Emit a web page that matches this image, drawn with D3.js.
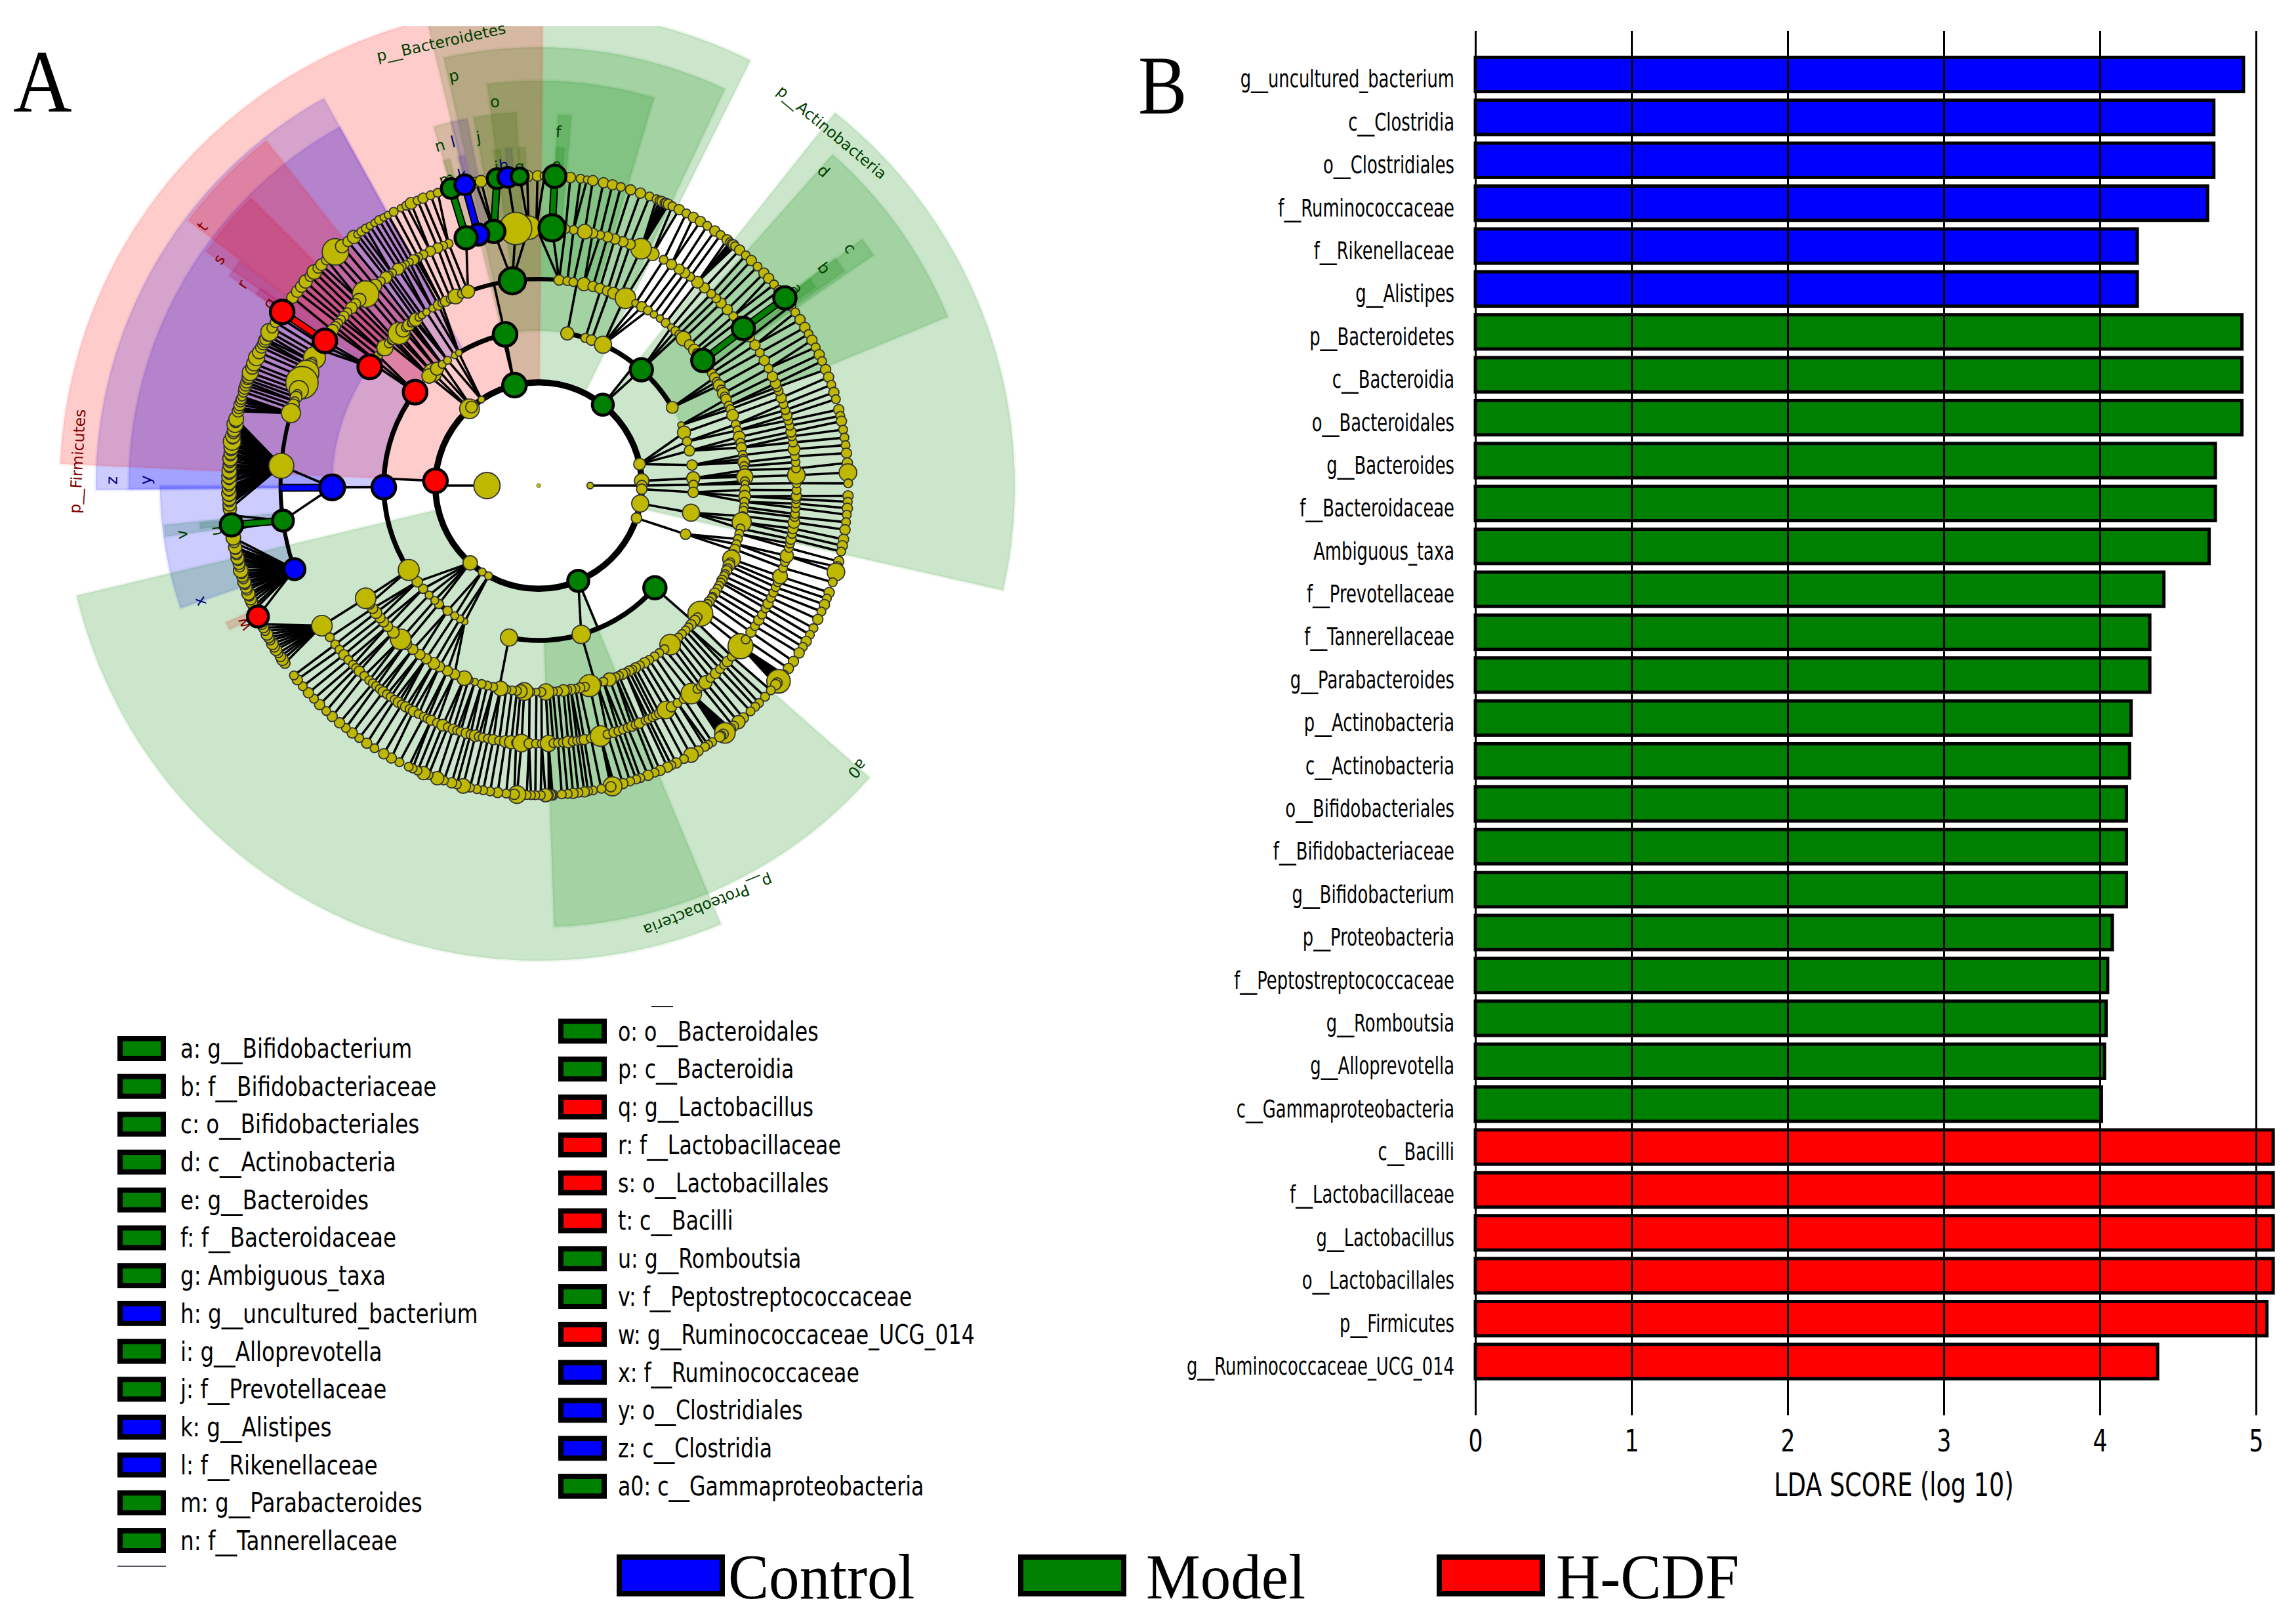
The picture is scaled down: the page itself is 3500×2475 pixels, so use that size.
<!DOCTYPE html>
<html><head><meta charset="utf-8">
<script src="https://cdn.jsdelivr.net/npm/d3@7/dist/d3.min.js"></script>
<style>html,body{margin:0;padding:0;background:#fff}svg{display:block}</style>
</head><body><svg id="chart" width="3500" height="2475"></svg>
<script>
// ---------- Panel B data ----------
const barNames = ["g__uncultured_bacterium","c__Clostridia","o__Clostridiales","f__Ruminococcaceae","f__Rikenellaceae","g__Alistipes","p__Bacteroidetes","c__Bacteroidia","o__Bacteroidales","g__Bacteroides","f__Bacteroidaceae","Ambiguous_taxa","f__Prevotellaceae","f__Tannerellaceae","g__Parabacteroides","p__Actinobacteria","c__Actinobacteria","o__Bifidobacteriales","f__Bifidobacteriaceae","g__Bifidobacterium","p__Proteobacteria","f__Peptostreptococcaceae","g__Romboutsia","g__Alloprevotella","c__Gammaproteobacteria","c__Bacilli","f__Lactobacillaceae","g__Lactobacillus","o__Lactobacillales","p__Firmicutes","g__Ruminococcaceae_UCG_014"];
const barScores = [4.92,4.73,4.73,4.69,4.24,4.24,4.91,4.91,4.91,4.74,4.74,4.70,4.41,4.32,4.32,4.20,4.19,4.17,4.17,4.17,4.08,4.05,4.04,4.03,4.01,5.11,5.11,5.11,5.11,5.07,4.37];
const barGroups = ["b","b","b","b","b","b","g","g","g","g","g","g","g","g","g","g","g","g","g","g","g","g","g","g","g","r","r","r","r","r","r"];
const xTicks = [0,1,2,3,4,5];
const groupNames = [["b","Control"],["g","Model"],["r","H-CDF"]];
// ---------- Panel A legend ----------
const legendLeft = [["g","a: g__Bifidobacterium"],["g","b: f__Bifidobacteriaceae"],["g","c: o__Bifidobacteriales"],["g","d: c__Actinobacteria"],["g","e: g__Bacteroides"],["g","f: f__Bacteroidaceae"],["g","g: Ambiguous_taxa"],["b","h: g__uncultured_bacterium"],["g","i: g__Alloprevotella"],["g","j: f__Prevotellaceae"],["b","k: g__Alistipes"],["b","l: f__Rikenellaceae"],["g","m: g__Parabacteroides"],["g","n: f__Tannerellaceae"]];
const legendRight = [["g","o: o__Bacteroidales"],["g","p: c__Bacteroidia"],["r","q: g__Lactobacillus"],["r","r: f__Lactobacillaceae"],["r","s: o__Lactobacillales"],["r","t: c__Bacilli"],["g","u: g__Romboutsia"],["g","v: f__Peptostreptococcaceae"],["r","w: g__Ruminococcaceae_UCG_014"],["b","x: f__Ruminococcaceae"],["b","y: o__Clostridiales"],["b","z: c__Clostridia"],["g","a0: c__Gammaproteobacteria"]];
// ---------- Cladogram: shaded clades [colour, angle from, angle to, level inner, outer radius] ----------
const shades = [
 ["r",89.5,177.4,2,730],["g",63.5,103.5,2,724],["g",-12.7,51.5,2,726],["g",193.4,292.6,2,724],
 ["r",128.3,142.9,3,670],["b",119,180.6,3,675],["g",64.8,102.5,3,668],["g",22.4,48.4,3,675],["g",272,318.6,3,673],
 ["r",135,144.9,4,620],["b",119,180.5,4,625],["g",73.4,97.3,4,617],["g",34.5,37.3,4,620],
 ["r",143,145.9,5,570],["b",180,198.9,5,577],["g",186,187.8,5,574],["g",93.4,100,5,570],["b",101,103.5,5,570],["g",103.5,106.3,5,570],["g",84.9,87,5,566],["g",35,37.5,5,570],
 ["r",144.6,145.9,6,520],["r",203.6,205,6,520],["g",186.3,187.3,6,520],["g",85.6,87,6,516],["g",92.2,93.5,6,516],["b",94.5,95.7,6,516],["g",96.4,97.7,6,516],["b",102.6,103.8,6,516],["g",105.2,106.4,6,516],["g",35.6,37.3,6,520]];
// label, angle, radius, colour
const cladeLabels = [["a",37.3,495,"g"],["b",37.3,547,"g"],["c",37.3,597,"g"],["d",47.8,647,"g"],["e",86.8,490,"g"],["f",86.8,540,"g"],["g",93.4,487,"g"],["h",96.2,491,"b"],["i",97.5,490,"g"],["j",99.8,539,"g"],["k",103.8,488,"b"],["l",104,540,"b"],["m",106.7,488,"g"],["n",106.2,540,"g"],["o",96.5,589,"g"],["p",101.7,638,"g"],["q",145.9,496,"r"],["r",145.8,546,"r"],["s",144.7,597,"r"],["t",142.4,647,"r"],["u",188,497,"g"],["v",187.8,549,"g"],["w",205.2,497,"r"],["x",198.9,546,"b"],["y",179.2,599,"b"],["z",179.3,651,"b"],["a0",-41.6,650,"g"]];
const phylumLabels = [["p__Firmicutes",177,704,"r"],["p__Bacteroidetes",102.4,692,"g"],["p__Actinobacteria",50.3,700,"g"],["p__Proteobacteria",-68,690,"g"]];
// rows are [angle, node radius, colour]; no colour means not significant
const level0 = [[0,3]];
const level1 = [[180,20],[0,5]];
const level2 = [[177.4,18,"r"],[103.5,18,"g"],[51.5,16,"g"],[132,15],[130.5,9],[123.6,5],[12,9],[2.6,11],[0,8],[-2,8],[-10,13],[-18.4,8],[-67.4,16,"g"],[241,6],[236.8,6],[228.5,11]];
const level3 = [[142.9,18,"r"],[133.2,14],[135,11],[131,10],[128.5,6],[126,6],[122.8,5],[121,5],[102.5,18,"g"],[79.3,10],[72.4,7],[70,8],[65.4,13],[48.4,17,"g"],[30.3,9],[23,5],[20,10],[16.5,7],[13,8],[7.6,8],[2.7,10],[0.3,7],[-2.5,8],[-10.1,13],[-18.3,8],[-41.3,17,"g"],[-74,14],[259,13],[241.5,5],[239.5,6],[237.2,6],[234,7],[229.9,7],[227.9,6],[225,6],[221.8,7],[218.4,8],[213,16],[180.6,18,"b"]];
const level4 = [[144.9,18,"r"],[143.7,5],[142.5,6],[141,6],[139.5,6],[138.1,11],[136.5,6],[135.3,6],[134.4,9],[133.5,6],[132.5,15],[131,10],[130,6],[129,8],[128.2,5],[127.8,6],[127,5],[126.5,9],[125.5,5],[124.4,5],[122.9,5],[120.9,5],[119,7],[118,5],[116.8,7],[115.2,6],[113.7,10],[111.8,6],[110,9],[97.3,20,"g"],[84.3,7],[82,6],[80.3,6],[77.3,9],[74.7,7],[72.7,7],[70.5,7],[68.7,8],[66.8,6],[65.1,14],[62,5],[60,7],[58,6],[56,5],[54,5],[52,6],[50,5],[48.5,6],[47,6],[45.4,10],[43,7],[41,8],[39.9,6],[38.8,6],[37.3,17,"g"],[35.7,6],[34.4,6],[33,6],[31.5,7],[30.2,6],[29,8],[27.7,6],[26.5,8],[25.6,6],[24.7,7],[22.8,6],[21.7,6],[19.9,8],[17.2,6],[15.5,6],[13.6,8],[12,6],[10.6,7],[8.5,6],[7.4,6],[6.5,8],[5.4,6],[4.3,6],[3.2,7],[2.4,11],[1.2,6],[0.5,5],[-1.2,7],[-3,8],[-4.5,6],[-6,6],[-7,6],[-8.5,6],[-10.2,13],[-12,6],[-13.5,6],[-15,6],[-16.5,6],[-18,7],[-19.4,6],[-20.8,12],[-21.8,6],[-22.8,8],[-23.6,6],[-24.4,7],[-25.4,6],[-26,6],[-27.3,7],[-28,6],[-29,6],[-30,6],[-31.4,7],[-32.6,6],[-33,6],[-34.3,7],[-35,6],[-36,6],[-37,6],[-38.4,17],[-39.6,6],[-40.8,7],[-42.4,7],[-43.4,6],[-44.6,6],[-46,6],[-47.4,6],[-49,6],[-50.4,14],[307.6,6],[305.8,6],[304.2,6],[302.4,6],[300.9,7],[299.4,6],[298,7],[297,6],[296,7],[295,6],[294,7],[292.9,6],[291.9,6],[290.1,9],[288.3,6],[286.5,6],[284.3,15],[283,6],[281.5,7],[280.3,6],[279,7],[278,6],[276.9,8],[275.4,6],[274,6],[273,6],[272,11],[270.8,6],[269.4,5],[267.5,7],[266,12],[265,9],[264,6],[262.6,6],[261,6],[259.4,10],[257.3,6],[255.6,6],[254,6],[252,5],[250.2,6],[248.9,10],[246,7],[243.8,7],[241.3,7],[239.5,8],[237,7],[234.9,7],[232.5,7],[230,8],[228.1,14],[225.3,8],[223,7],[221.3,7],[219.8,7],[218,8],[216.5,7],[215,7],[213.1,14],[180.5,19,"b"]];
const level5 = [[145.9,18,"r"],[147,6],[148.2,7],[149.3,6],[150.3,15],[151.3,6],[152.4,10],[153.2,6],[154.1,17],[155.3,8],[156.5,22],[157.4,7],[158.3,13],[159.2,6],[160,8],[160.9,6],[161.8,8],[162.7,7],[163.7,13],[175.6,17],[187.8,16,"g"],[198.9,16,"b"],[212.9,14],[216,6],[218,6],[219.5,6],[221,7],[222.5,6],[224,6],[225,6],[226,7],[227.5,6],[229,6],[230,6],[231,6],[232,6],[233,7],[234,6],[235,6],[236.1,6],[237.1,7],[238,6],[239,7],[240,6],[241,7],[242.3,6],[243.6,6],[244.5,6],[245.4,7],[246.8,6],[248.2,8],[249.4,6],[250.7,7],[251.6,6],[252.4,6],[253.7,7],[254.7,6],[255.8,8],[256.6,6],[257.5,6],[258.7,6],[259.9,7],[261.2,6],[262.6,8],[263.9,9],[265,6],[266.2,12],[267.9,7],[269.4,6],[270.7,6],[272.2,11],[273.3,6],[274.3,6],[275.4,6],[276.6,8],[277.6,6],[278.6,6],[279.4,6],[280.2,7],[281.7,6],[283.9,14],[285.5,6],[287,7],[288,6],[289.1,6],[290.2,6],[291.2,7],[292.1,6],[293,7],[294.5,6],[295.2,6],[296.2,6],[297,6],[298,7],[299.6,12],[301,7],[302.6,6],[304.2,6],[306.3,14],[-52,6],[-51,6],[-49.7,9],[-48.2,6],[-46.7,7],[-45.3,6],[-44,6],[-43,7],[-41.5,6],[-38.5,17],[-36.6,6],[-34.6,7],[-33,6],[-31.4,7],[-30,6],[-28.4,6],[-27.2,7],[-25.8,6],[-24.5,6],[-23.2,6],[-22,6],[-20.6,10],[-18.6,6],[-17.2,6],[-15.8,9],[-14,6],[-13,6],[-12,7],[-10.8,6],[-9.6,7],[-8.2,8],[-7,6],[-6.3,6],[-5,6],[-4,6],[-3,6],[-2.3,7],[-1,6],[0.5,6],[2.3,12],[3.8,6],[5.2,6],[6.5,6],[8.1,8],[9.6,6],[11,6],[12,7],[13.4,6],[14.6,6],[15.8,7],[17,6],[18.4,6],[19.9,7],[21.5,6],[22.4,6],[23.3,7],[25,7],[27,6],[29,7],[31,6],[33,7],[35,6],[37.5,17,"g"],[39.5,7],[41,6],[43,7],[45,7],[46.5,6],[48,6],[50,7],[52,8],[54,6],[55.5,7],[57,7],[59,7],[61,6],[63.8,9],[66.6,14],[69.2,7],[70.9,7],[72.8,7],[74.5,7],[76.2,6],[77.9,7],[79.7,10],[82.2,6],[84,6],[87,20,"g"],[90.5,7],[92.2,16],[95.1,22],[100,17,"g"],[103.5,16,"b"],[106.3,17,"g"],[110.4,6],[111.7,6],[113,7],[114.8,7],[116.5,6],[117.8,6],[118.4,5],[119,7],[120,5],[121,5],[122,6],[123,8],[124.6,6],[125.5,6],[126.3,8],[127.7,6],[129.3,9],[130.7,6],[132.1,18],[134,9],[135.2,7],[136.5,8],[137.8,6],[139,7],[140,6],[141,6],[142,7],[143,8]];
const level6 = [[87,17,"g"],[84.1,7],[82.2,6],[81,5],[79.9,7],[77.9,7],[76.2,7],[74.6,6],[72.7,7],[70.8,7],[69,6],[67.6,6],[67,6],[66.5,7],[66,6],[65.6,7],[65.2,7],[64.4,6],[63,7],[61.5,6],[60,7],[58.5,7],[57,6],[55.3,7],[54,6],[52.5,7],[51.8,6],[51.4,6],[51,7],[50.6,6],[49.5,7],[48,6],[46.6,7],[45,6],[43.3,7],[42,7],[40.5,6],[39,7],[37.3,17,"g"],[35.5,7],[34,6],[32.4,7],[30.7,7],[29.3,6],[28,7],[26.5,6],[25,7],[23.7,6],[22,7],[20.5,7],[19,6],[17.5,7],[16.2,6],[14.2,7],[13,6],[12,7],[10.4,6],[8.9,6],[7.5,6],[6,7],[4.2,7],[2.4,12],[0.4,6],[-1.9,7],[-3,6],[-4.2,7],[-5.4,6],[-6.8,6],[-8.2,7],[-10,7],[-11.2,7],[-12.3,6],[-14.2,7],[-15.2,7],[-16.2,12],[-18.2,6],[-20.2,7],[-21.4,6],[-22.6,7],[-24,6],[-25.6,7],[-27.4,6],[-28.8,6],[-30.2,7],[-31.4,6],[-32.7,7],[-34.6,7],[-36.2,7],[-37.6,6],[-38,6],[-38.4,7],[-38.8,12],[-39.2,16],[-39.6,7],[-40,7],[-41.4,6],[-43,6],[-44.6,6],[-45.6,6],[-46.8,6],[-48.6,7],[-49.8,9],[-51,7],[308.3,7],[307.8,6],[307.4,7],[307,14],[306.6,7],[306.2,6],[305.8,7],[304.1,6],[303.2,6],[302.5,6],[301,7],[299.5,10],[298,6],[296.4,7],[295.4,6],[294.6,7],[293.1,7],[292,6],[290.7,7],[289.2,6],[288.4,6],[287.2,6],[285.8,7],[284.2,7],[283.9,6],[283.8,13],[283.5,7],[281.7,6],[280.1,6],[279.2,6],[278.5,7],[277.4,6],[276.4,7],[275.4,6],[274.3,6],[272.6,7],[272.5,6],[272.2,7],[271.9,6],[271.3,9],[270.4,6],[269.4,6],[268.6,6],[267.8,6],[266,12],[265.5,7],[264,6],[262.4,7],[261,6],[259.7,6],[258.5,6],[257.2,6],[255.9,10],[254.7,6],[253.7,7],[252.2,6],[250.9,9],[249.2,6],[248.2,9],[247,6],[246,6],[245.2,6],[243.3,6],[241.6,7],[240,7],[238,6],[236.3,7],[234.6,6],[233,7],[231.5,6],[230,7],[228.2,7],[226.7,6],[225,7],[223.5,6],[222,7],[220.4,6],[218.8,7],[217.8,6],[215,7],[214.2,8],[213.5,7],[212.8,6],[212,8],[211.4,7],[210.7,8],[210,6],[209.4,7],[208.7,8],[208,6],[207.3,7],[206.6,7],[205,16,"r"],[203.6,7],[203,7],[202.2,8],[201.5,8],[200.9,7],[200.4,9],[199.7,7],[199.2,8],[198.6,7],[198.1,9],[197.5,7],[197,8],[196.5,7],[195.9,10],[195.2,7],[194.6,8],[194,7],[193.5,9],[192.9,7],[192.5,8],[191.9,7],[191.5,9],[190.6,7],[189.7,10],[188.2,8],[187.3,17,"g"],[185.5,8],[184.3,9],[183.5,9],[183,7],[182.5,9],[182,7],[181.5,10],[181,7],[180.6,9],[180.1,7],[179.4,10],[178.9,7],[178.3,10],[177.8,8],[177.3,10],[176.7,7],[176.2,9],[175.6,8],[175,10],[174.5,7],[174,9],[173.4,8],[172.9,10],[172.3,8],[171.8,12],[171.2,8],[170.8,10],[170.2,8],[169.7,9],[169.1,7],[168.6,11],[168.1,8],[167.6,10],[166.1,8],[165.6,7],[164.9,8],[164.3,7],[163.8,7],[163.3,6],[162.4,7],[161.7,8],[161.1,8],[160.5,8],[160,7],[159.4,9],[158.6,11],[157.6,9],[156.8,10],[155.6,11],[154.5,9],[153.5,8],[152.8,8],[152.1,9],[151.8,8],[151,8],[150.3,12],[149.4,7],[148.2,7],[147,6],[145.9,18,"r"],[142.6,8],[141.2,8],[140,8],[138.8,9],[137.5,7],[136.4,10],[135.4,7],[134.5,8],[133.2,7],[132,8],[131,18],[129.4,9],[128,7],[126.6,9],[125.8,5],[124.9,6],[123.9,6],[123,5],[122,5],[121,6],[120,5],[119.1,5],[117.9,6],[116.4,5],[115.3,6],[114.3,8],[113,6],[111.9,7],[110.4,6],[109,6],[106.4,15,"g"],[103.8,15,"b"],[101.7,7],[100.7,8],[97.7,15,"g"],[95.7,15,"b"],[93.5,13,"g"],[92.1,8],[90.2,7],[88.9,6]];
// arcs joining siblings: [level, angle from, angle to]
const siblingArcs = [[2,-180,180],[3,142.9,213],[3,213,241.5],[3,102.5,121],[3,48.4,79.3],[3,30.3,48.4],[3,259,318.7],[4,65.1,110],[4,126.5,144.9],[4,213.1,225.3],[4,228.1,252],[4,252,309.6],[4,309.6,341.6],[5,145.9,163.7],[5,163.7,198.9]];
// straight stems from a parent to the arc of its children: [parent level, angle]
const stems = [[1,180],[1,0],[2,177.4],[2,103.5],[2,51.5],[2,-67.4],[3,102.5],[3,79.3],[3,72.4],[3,70],[3,65.4],[3,259],[3,-74],[3,-41.3],[3,-18.3]];
// level-4 spans whose children hang from a stem and an arc, with no link of their own: [from, to]
const arcOnlySpans = [[65,110],[252,342]];
// coloured links: [outer level, outer angle, inner angle, colour]
const colouredLinks = [[6,145.9,145.9,"r"],[5,180.5,180.6,"b"],[5,37.3,37.3,"g"],[6,37.3,37.5,"g"],[6,87,87,"g"],[6,97.7,100,"g"],[6,103.8,103.5,"b"],[6,106.4,106.3,"g"],[6,187.3,187.8,"g"]];
// forced fans: [parent angle on level 5, child angle from, child angle to]
const fanRanges = [[175.6,167,184.5],[198.9,189.5,204],[212.9,206,215.5],[163.7,163,166.5],[-38.5,-40,-37.5],[306.3,305.6,308.4],[66.6,65,67.2],[52,50.5,52],[272.2,271.8,272.7],[283.9,283.4,284.3]];
// most children a parent links to on each level (the rest sit on the ring)
const childCap = {3:99,4:3,5:3,6:99};

// ---------- Layout ----------
const W=3500,H=2475;
const colours={b:"#0000ff",g:"#008000",r:"#ff0000"};
const darkText={b:"#000080",g:"#004000",r:"#800000"};
const cx=821,cy=740;
const svg=d3.select("#chart");
svg.append("rect").attr("width",W).attr("height",H).attr("fill","#fff");
svg.append("defs").append("clipPath").attr("id","topClip").append("rect").attr("x",0).attr("y",40).attr("width",1700).attr("height",1500);

const rScale=d3.scaleLinear().domain([0,6]).range([0,472]);
const rad=d3.scaleLinear().domain([0,360]).range([0,2*Math.PI]);
const px=(r,a)=>cx+r*Math.cos(rad(a));
const py=(r,a)=>cy-r*Math.sin(rad(a));
const circ=(a,b)=>{const d=Math.abs(((a-b)%360+360)%360);return Math.min(d,360-d);};
const norm=a=>((a%360)+360)%360;
const levels=[level0,level1,level2,level3,level4,level5,level6];
const A=svg.append("g");

// shaded sectors: deepest clades first, phyla last
const arcGen=d3.arc();
const shadeG=A.append("g").attr("clip-path","url(#topClip)");
shadeG.selectAll("path").data(shades.slice().reverse()).join("path")
  .attr("transform",`translate(${cx},${cy})`)
  .attr("d",d=>arcGen({innerRadius:rScale(d[3]),outerRadius:d[4],startAngle:rad(90-d[2]),endAngle:rad(90-d[1])}))
  .attr("fill",d=>colours[d[0]]).attr("fill-opacity",0.2)
  .attr("stroke",d=>colours[d[0]]).attr("stroke-opacity",0.06).attr("stroke-width",5);

// texts on the sectors
A.selectAll("text.clade").data(cladeLabels).join("text").attr("class","clade")
  .attr("transform",d=>`translate(${px(d[2],d[1])},${py(d[2],d[1])}) rotate(${90-d[1]})`)
  .attr("text-anchor","middle").attr("dy","0.35em")
  .attr("font-family","DejaVu Sans").attr("font-size",24).attr("fill",d=>darkText[d[3]]).text(d=>d[0]);
A.selectAll("text.phylum").data(phylumLabels).join("text").attr("class","phylum")
  .attr("transform",d=>`translate(${px(d[2],d[1])},${py(d[2],d[1])}) rotate(${90-d[1]})`)
  .attr("text-anchor","middle").attr("dy","0.35em")
  .attr("font-family","DejaVu Sans").attr("font-size",23.5).attr("fill",d=>darkText[d[3]]).text(d=>d[0]);

// links from each node to its parent one level in
const links=[];
const nearest=(list,a)=>list.reduce((b,n)=>circ(n[0],a)<circ(b[0],a)?n:b,list[0]);
for(let L=3;L<=6;L++){
  const cand=[];
  levels[L].forEach(n=>{
    let pa=null;
    if(L===6){const f=fanRanges.find(q=>n[0]>=q[1]&&n[0]<=q[2]); if(f) pa=f[0];}
    if(pa===null){const p=nearest(levels[L-1],n[0]); if(circ(p[0],n[0])<=(L===3?10.5:12)) pa=p[0];}
    if(L===3&&n[2]&&!(n[0]===102.5||n[0]===48.4)) pa=null;
    if(L===4&&arcOnlySpans.some(s=>norm(n[0])>=s[0]&&norm(n[0])<=s[1])) pa=null;
    if(pa!==null) cand.push([L,n[0],pa]);
  });
  d3.group(cand,d=>d[2]).forEach(kids=>{
    kids.slice().sort((p,q)=>circ(p[1],p[2])-circ(q[1],q[2])).slice(0,childCap[L]).forEach(k=>links.push(k));
  });
}
const linkG=A.append("g").attr("stroke","#000").attr("stroke-width",3.6).attr("stroke-linecap","round");
linkG.selectAll("line.l").data(links).join("line").attr("class","l")
  .attr("x1",d=>px(rScale(d[0]),d[1])).attr("y1",d=>py(rScale(d[0]),d[1]))
  .attr("x2",d=>px(rScale(d[0]-1),d[2])).attr("y2",d=>py(rScale(d[0]-1),d[2]));
linkG.selectAll("line.s").data(stems).join("line").attr("class","s")
  .attr("x1",d=>px(rScale(d[0]),d[1])).attr("y1",d=>py(rScale(d[0]),d[1]))
  .attr("x2",d=>px(rScale(d[0]+1),d[1])).attr("y2",d=>py(rScale(d[0]+1),d[1]));

// thick arcs
const arcWidth={2:9.5,3:7.5,4:6.5,5:6};
A.append("g").selectAll("path").data(siblingArcs).join("path")
  .attr("transform",`translate(${cx},${cy})`)
  .attr("d",d=>arcGen({innerRadius:rScale(d[0])-arcWidth[d[0]]/2,outerRadius:rScale(d[0])+arcWidth[d[0]]/2,startAngle:rad(90-d[2]),endAngle:rad(90-d[1])}))
  .attr("fill","#000");

// coloured links
const cl=A.append("g");
const clXY=d=>({x1:px(rScale(d[0]),d[1]),y1:py(rScale(d[0]),d[1]),x2:px(rScale(d[0]-1),d[2]),y2:py(rScale(d[0]-1),d[2])});
cl.selectAll("line.o").data(colouredLinks).join("line").attr("class","o")
  .attr("x1",d=>clXY(d).x1).attr("y1",d=>clXY(d).y1).attr("x2",d=>clXY(d).x2).attr("y2",d=>clXY(d).y2)
  .attr("stroke","#000").attr("stroke-width",12);
cl.selectAll("line.i").data(colouredLinks).join("line").attr("class","i")
  .attr("x1",d=>clXY(d).x1).attr("y1",d=>clXY(d).y1).attr("x2",d=>clXY(d).x2).attr("y2",d=>clXY(d).y2)
  .attr("stroke",d=>colours[d[3]]).attr("stroke-width",8);

// nodes: plain first, significant on top
const nodes=[];
levels.forEach((list,L)=>list.forEach(n=>nodes.push({L,a:n[0],s:n[1],c:n[2]})));
const plain=nodes.filter(n=>!n.c), sig=nodes.filter(n=>n.c);
const nx=n=>px(rScale(n.L),n.a), ny=n=>py(rScale(n.L),n.a);
A.append("g").selectAll("circle").data(plain).join("circle")
  .attr("cx",nx).attr("cy",ny).attr("r",d=>d.L>=4?d.s*1.12:d.s)
  .attr("fill","#bfb800").attr("stroke","#333").attr("stroke-width",d=>d.L===0?0.8:1.8);
A.append("g").selectAll("circle").data(sig).join("circle")
  .attr("cx",nx).attr("cy",ny).attr("r",d=>d.s)
  .attr("fill",d=>colours[d.c]).attr("stroke","#000").attr("stroke-width",4.5);

// panel letters
const serif="Liberation Serif";
svg.append("text").attr("transform","translate(20,170) scale(0.92,1)").attr("font-family",serif).attr("font-size",135).text("A");
svg.append("text").attr("transform","translate(1735,173) scale(0.88,1)").attr("font-family",serif).attr("font-size",127).text("B");

// squeezed sans text helper
const sans="DejaVu Sans";
function legendCol(rows,xSw,xTxt,yFirst,yLast,sx){
  const y=d3.scalePoint().domain(rows.map(d=>d[1])).range([yFirst,yLast]);
  const g=svg.append("g");
  g.selectAll("rect").data(rows).join("rect")
    .attr("x",xSw+4).attr("y",d=>y(d[1])-15).attr("width",66).attr("height",30)
    .attr("fill",d=>colours[d[0]]).attr("stroke","#000").attr("stroke-width",8);
  g.selectAll("text").data(rows).join("text")
    .attr("transform",d=>`translate(${xTxt},${y(d[1])+14}) scale(${sx},1)`)
    .attr("font-family",sans).attr("font-size",40).attr("fill","#000").text(d=>d[1]);
}
legendCol(legendLeft,179,275,1598,2348,0.815);
legendCol(legendRight,851,942,1571.5,2265,0.79);
// stray rules left over at the cut edges of the legend
svg.append("line").attr("x1",993).attr("x2",1026).attr("y1",1534).attr("y2",1534).attr("stroke","#222").attr("stroke-width",2);
svg.append("line").attr("x1",179).attr("x2",253).attr("y1",2387).attr("y2",2387).attr("stroke","#556").attr("stroke-width",2);

// ---------- Panel B ----------
const x=d3.scaleLinear().domain([0,5]).range([2249,3439]);
const y=d3.scaleBand().domain(barNames).range([113.5-32.7,2075+32.7]).paddingInner(0.17).paddingOuter(0.085);
const B=svg.append("g");
B.selectAll("rect").data(barNames).join("rect")
  .attr("x",x(0)).attr("y",d=>y(d)+1).attr("width",(d,i)=>x(barScores[i])-x(0)).attr("height",y.bandwidth()-2)
  .attr("fill",(d,i)=>colours[barGroups[i]]).attr("stroke","#000").attr("stroke-width",5);
B.selectAll("text.name").data(barNames).join("text").attr("class","name")
  .attr("transform",d=>`translate(2217,${y(d)+y.bandwidth()/2+20}) scale(0.68,1)`)
  .attr("text-anchor","end").attr("font-family",sans).attr("font-size",38).attr("fill","#000").text(d=>d);
const axisG=B.append("g").attr("transform","translate(0,2157)")
  .call(d3.axisBottom(x).tickValues(xTicks).tickFormat(d3.format("d")).tickSizeInner(-2110).tickSizeOuter(0));
axisG.select(".domain").remove();
axisG.selectAll(".tick line").attr("stroke","#000").attr("stroke-width",3);
axisG.selectAll(".tick text").attr("y",null).attr("dy",null)
  .attr("transform","translate(0,55) scale(0.75,1)").attr("font-family",sans).attr("font-size",46).attr("fill","#000");
B.append("text").attr("transform","translate(2887,2280) scale(0.733,1)").attr("text-anchor","middle")
  .attr("font-family",sans).attr("font-size",50).attr("fill","#000").text("LDA SCORE (log 10)");

// group legend
const keyX=d3.scaleOrdinal().domain(groupNames.map(d=>d[1])).range([944,1556,2194]);
const keyTextX=d3.scaleOrdinal().domain(groupNames.map(d=>d[1])).range([1110,1747,2372]);
const keyScale=d3.scaleOrdinal().domain(groupNames.map(d=>d[1])).range([0.95,0.95,0.95]);
const K=svg.append("g");
K.selectAll("rect").data(groupNames).join("rect")
  .attr("x",d=>keyX(d[1])).attr("y",2373).attr("width",157).attr("height",56)
  .attr("fill",d=>colours[d[0]]).attr("stroke","#000").attr("stroke-width",8);
K.selectAll("text").data(groupNames).join("text")
  .attr("transform",d=>`translate(${keyTextX(d[1])},2436) scale(${keyScale(d[1])},1)`)
  .attr("font-family",serif).attr("font-size",98).attr("fill","#000").text(d=>d[1]);
</script></body></html>
